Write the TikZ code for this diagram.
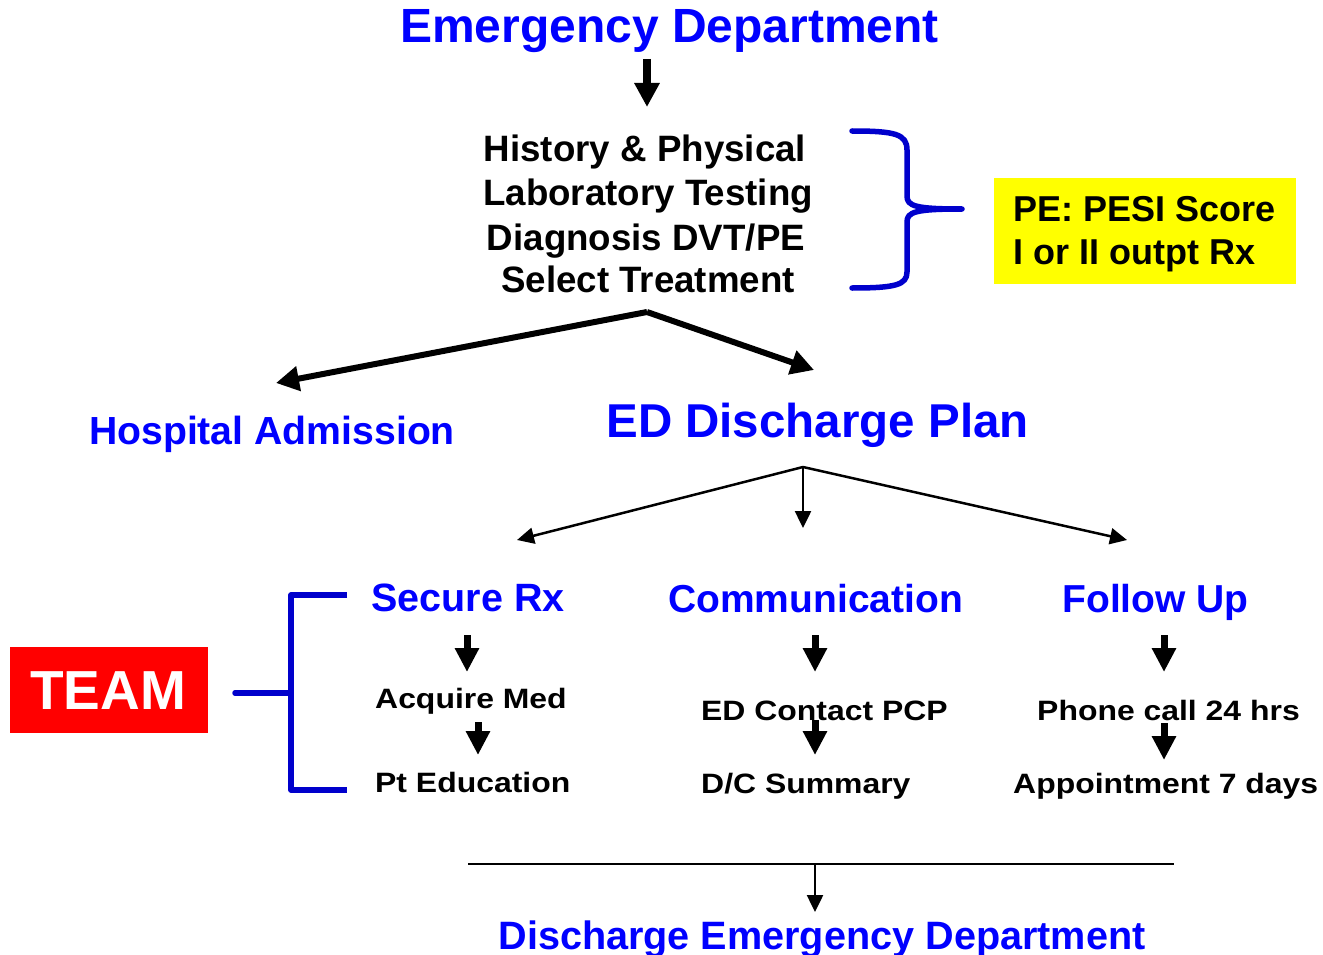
\documentclass[tikz,border=0pt]{standalone}
\usepackage{fontspec}
\setmainfont{Liberation Sans}
\usepackage{graphicx}
\usetikzlibrary{arrows.meta}
\definecolor{tblue}{RGB}{0,0,255}
\definecolor{bblue}{RGB}{0,0,204}
\definecolor{tred}{RGB}{255,0,0}
\definecolor{tyellow}{RGB}{255,255,0}
\newcommand\fsz[1]{\fontsize{#1}{#1}\selectfont\bfseries}
\newcommand\stretchit[1]{\scalebox{1.14}[1]{#1}}
\begin{document}
\begin{tikzpicture}[x=1pt,y=-1pt,
  lbl/.style={inner sep=0pt, anchor=base},
  ttl/.style={lbl, text=tblue},
  small/.style={inner sep=0pt, anchor=base west, font=\fsz{28}},
  bigarrow/.style={line width=8pt, -{Triangle[length=24pt,width=24pt]}},
  fatarrow/.style={line width=6pt, -{Triangle[length=23pt,width=24pt]}},
  colarrow/.style={line width=7pt, -{Triangle[length=24pt,width=23pt]}},
  thinarrow/.style={line width=2.5pt, -{Triangle[length=17pt,width=16pt]}},
  bracketline/.style={draw=bblue, line width=5.5pt, line cap=round, line join=round}]
\useasboundingbox (0,0) rectangle (1323,955);

% titles
\node[ttl, font=\fsz{48}] (ed) at (669.5,43) {Emergency Department};
\node[lbl, font=\fsz{36.7}] (h1) at (645,162) {History \& Physical};
\node[lbl, font=\fsz{36.7}] (h2) at (648,205) {Laboratory Testing};
\node[lbl, font=\fsz{36.7}] (h3) at (646,250) {Diagnosis DVT/PE};
\node[lbl, font=\fsz{36.7}] (h4) at (648,292) {Select Treatment};

% PE box
\node[fill=tyellow, minimum width=302pt, minimum height=106pt, inner sep=0pt] (pe) at (1145,231) {};
\node[small, font=\fsz{36}] (pe1) at (1013,222) {PE: PESI Score};
\node[small, font=\fsz{36}] (pe2) at (1013,264) {I or II outpt Rx};

% brace
\draw[bracketline] (852,131) .. controls (895,131) and (907,134) .. (907,150)
  -- (907,196) .. controls (907,206) and (915,209) .. (962,209)
  .. controls (915,209) and (907,212) .. (907,222)
  -- (907,272) .. controls (907,285) and (895,288) .. (852,288);

% top arrow
\coordinate (a0s) at (647,59);
\coordinate (a0e) at (647,107);
\draw[bigarrow] (a0s) -- (a0e);

% split arrows
\coordinate (apex) at (647,312);
\coordinate (lt) at (276,383);
\coordinate (rt) at (814,370);
\draw[fatarrow] (apex) -- (lt);
\draw[fatarrow] (apex) -- (rt);

\node[ttl, font=\fsz{39.2}] (hosp) at (272,444) {Hospital Admission};
\node[ttl, font=\fsz{47.5}] (edp) at (817.5,437) {ED Discharge Plan};

% three-way thin arrows
\coordinate (apex2) at (803,467);
\coordinate (t1) at (517,540);
\coordinate (t2) at (803,528);
\coordinate (t3) at (1127,540);
\draw[thinarrow] (apex2) -- (t1);
\draw[thinarrow] (apex2) -- (t2);
\draw[thinarrow] (apex2) -- (t3);

% column titles
\node[ttl, font=\fsz{39.5}] (sec) at (468,611) {Secure Rx};
\node[ttl, font=\fsz{39}] (com) at (815.5,612) {Communication};
\node[ttl, font=\fsz{39}] (fol) at (1155.5,612) {Follow Up};

% column texts
\node[small] (acq) at (375,708) {\stretchit{Acquire Med}};
\node[small] (pte) at (375,792) {\stretchit{Pt Education}};
\node[small] (edc) at (701,720) {\stretchit{ED Contact PCP}};
\node[small] (dcs) at (701,793) {\stretchit{D/C Summary}};
\node[small] (pho) at (1037,720) {\stretchit{Phone call 24 hrs}};
\node[small] (app) at (1013,793) {\stretchit{Appointment 7 days}};

% column arrows
\coordinate (s1a) at (467,635); \coordinate (s1b) at (467,672);
\coordinate (s2a) at (478,722); \coordinate (s2b) at (478,755);
\coordinate (c1a) at (815,635); \coordinate (c1b) at (815,672);
\coordinate (c2a) at (815,720); \coordinate (c2b) at (815,755);
\coordinate (f1a) at (1164,635); \coordinate (f1b) at (1164,672);
\coordinate (f2a) at (1164,723); \coordinate (f2b) at (1164,760);
\draw[colarrow] (s1a) -- (s1b);
\draw[colarrow] (s2a) -- (s2b);
\draw[colarrow] (c1a) -- (c1b);
\draw[colarrow] (c2a) -- (c2b);
\draw[colarrow] (f1a) -- (f1b);
\draw[colarrow] (f2a) -- (f2b);

% TEAM
\node[fill=tred, minimum width=198pt, minimum height=86pt, inner sep=0pt] (teambox) at (109,690) {};
\node[lbl, text=white, font=\fsz{55}] (team) at (108,709) {TEAM};
\coordinate (stem) at (235,693);
\coordinate (bj) at (291,693);
\coordinate (bt) at (291,595);
\coordinate (bb) at (291,790);
\coordinate (btr) at (347,595);
\coordinate (bbr) at (347,790);
\draw[bracketline, line cap=butt] (btr) -- (bt) -- (bb) -- (bbr);
\draw[bracketline] (stem) -- (bj);

% bottom
\coordinate (bl) at (468,864);
\coordinate (br) at (1174,864);
\coordinate (bm) at (815,864);
\coordinate (bend) at (815,912);
\draw[line width=2.5pt] (bl) -- (br);
\draw[thinarrow] (bm) -- (bend);
\node[ttl, font=\fsz{39.6}] (dis) at (822,949) {Discharge Emergency Department};
\end{tikzpicture}
\end{document}
